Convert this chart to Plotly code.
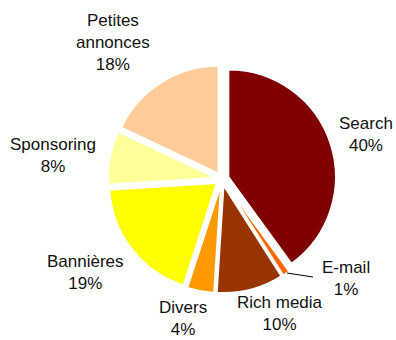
import plotly.graph_objects as go

labels = ["Search", "E-mail", "Rich media", "Divers", "Bannières", "Sponsoring", "Petites annonces"]
label_text = ["Search", "E-mail", "Rich media", "Divers", "Bannières", "Sponsoring", "Petites<br>annonces"]
values = [40, 1, 10, 4, 19, 8, 18]
colors = ["#800000", "#FF6600", "#993300", "#FF9900", "#FFFF00", "#FFFF99", "#FFCC99"]

W, H = 396, 340
# label centres in pixels (x, y from top)
label_pos = [(366, 135), (346, 278), (280, 313), (183, 318), (85, 272), (53, 156), (113, 42)]

cx, cy, R = 222, 179, 114
fig = go.Figure(go.Pie(
    labels=labels, values=values, sort=False, direction="clockwise", rotation=0,
    marker=dict(colors=colors, line=dict(color="white", width=1.5)),
    pull=[0.065] * len(values),
    textinfo="none", hoverinfo="label+percent",
    domain=dict(x=[(cx - R) / W, (cx + R) / W], y=[(H - cy - R) / H, (H - cy + R) / H]),
    showlegend=False,
))

for t, v, (px, py) in zip(label_text, values, label_pos):
    fig.add_annotation(x=px / W, y=1 - py / H, xref="paper", yref="paper",
                       text=f"{t}<br>{v}%", showarrow=False, xanchor="center", yanchor="middle",
                       font=dict(family="Liberation Sans, Arial", size=17, color="#111111"))

# leader line for E-mail
fig.add_shape(type="line", xref="paper", yref="paper",
              x0=287 / W, y0=1 - 273 / H, x1=313 / W, y1=1 - 277 / H,
              line=dict(color="black", width=1))

fig.update_layout(width=W, height=H, margin=dict(l=0, r=0, t=0, b=0),
                  paper_bgcolor="white", plot_bgcolor="white")
fig.write_html("out.html")
